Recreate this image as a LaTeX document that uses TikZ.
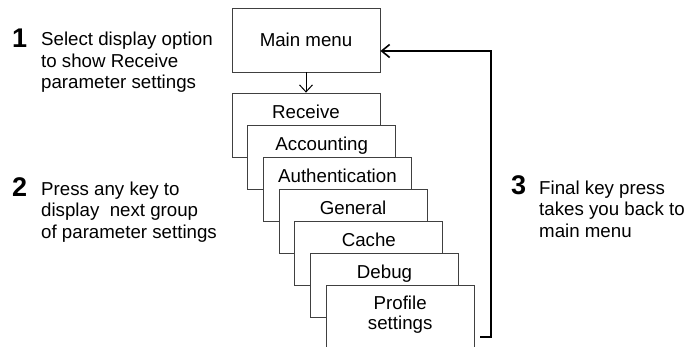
\documentclass[tikz,border=0pt]{standalone}
\usepackage{fontspec}
\setmainfont{Liberation Sans}
\usetikzlibrary{arrows.meta}

\tikzset{
	menubox/.style={draw=black!75, line width=0.8pt, fill=white, minimum width=148pt, minimum height=64pt, inner sep=0pt},
	boxtext/.style={anchor=base, align=center, font=\fontsize{18.7}{20}\selectfont, inner sep=0pt},
	stepnum/.style={anchor=base west, font=\fontsize{27}{27}\selectfont\bfseries, inner sep=0pt},
	steptext/.style={anchor=base west, align=left, font=\fontsize{18.7}{21.5}\selectfont, inner sep=0pt},
	flow/.style={-{Straight Barb[length=7pt,width=13pt]}, line width=1pt},
	returnline/.style={-{Straight Barb[length=8pt,width=13pt]}, line width=1.6pt}
}

\begin{document}
\begin{tikzpicture}[x=1pt,y=-1pt]
		\clip (0,0) rectangle (687,347);

		\node[menubox, font=\fontsize{18.7}{20}\selectfont] (main) at (306,40) {Main menu};

		\foreach \name/\txt/\dy [count=\i from 0] in {rec/Receive/26, acc/Accounting/26, auth/Authentication/26, gen/General/26, cache/Cache/26, dbg/Debug/26, prof/{Profile\\settings}/45}{
			\node[menubox] (\name) at (306+15.7*\i,125+32*\i) {};
			\node[boxtext] (\name-t) at ([yshift=-\dy pt]\name.north) {\txt};
		}

		\draw[flow] (main) -- (rec);
		\coordinate (ret) at (480,337);
		\draw[returnline] (ret) -- ++(11,0) |- ([yshift=-11pt]main.east);

		\node[stepnum] (n1) at (12,48) {1};
		\node[steptext] (t1) at (41,89) {Select display option\\to show Receive\\parameter settings};
		\node[stepnum] (n2) at (12,197) {2};
		\node[steptext] (t2) at (41,238) {Press any key to\\display~~next group\\of parameter settings};
		\node[stepnum] (n3) at (511,195) {3};
		\node[steptext] (t3) at (539,237) {Final key press\\takes you back to\\main menu};
	\end{tikzpicture}
\end{document}
